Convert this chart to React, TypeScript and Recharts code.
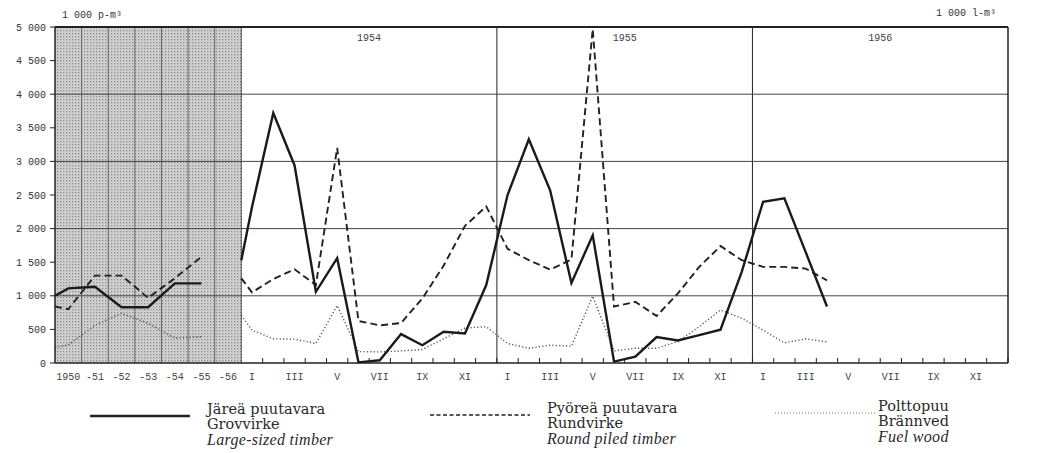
import { Line, LineChart, ReferenceArea, ReferenceLine, XAxis, YAxis } from "recharts";

// yearly panel (shaded)
const years = ["1950", "-51", "-52", "-53", "-54", "-55", "-56"];
const yearSolid = [1110, 1135, 830, 830, 1185, 1185, null];
const yearDashed = [800, 1300, 1300, 970, 1260, 1580, null];
const yearDotted = [270, 560, 740, 590, 370, 390, null];
// value where each line enters at the left edge of a panel: [solid, dashed, dotted]
const yearEdge = [1000, 840, 230];
const monthEdge = [1530, 1260, 710];

// monthly panel 1954-1956
const monthYears = ["1954", "1955", "1956"];
const monthNames = ["I", "II", "III", "IV", "V", "VI", "VII", "VIII", "IX", "X", "XI", "XII"];
const monthSolid = [
  2320, 3720, 2940, 1060, 1560, 10, 40, 430, 265, 465, 440, 1160,
  2500, 3330, 2570, 1190, 1900, 20, 95, 385, 335, 415, 495, 1360,
  2400, 2450, 1650, 840, null, null, null, null, null, null, null, null,
];
const monthDashed = [
  1050, 1250, 1395, 1160, 3200, 625, 560, 595, 960, 1450, 2040, 2330,
  1700, 1530, 1390, 1540, 4970, 840, 910, 700, 1035, 1430, 1740, 1530,
  1430, 1430, 1405, 1230, null, null, null, null, null, null, null, null,
];
const monthDotted = [
  490, 360, 355, 290, 855, 170, 165, 180, 200, 360, 520, 540,
  290, 220, 265, 250, 995, 180, 220, 220, 320, 540, 790, 665,
  490, 300, 360, 315, null, null, null, null, null, null, null, null,
];

const legendFi = ["Järeä puutavara", "Pyöreä puutavara", "Polttopuu"];
const legendSv = ["Grovvirke", "Rundvirke", "Brännved"];
const legendEn = ["Large-sized timber", "Round piled timber", "Fuel wood"];

const yTicks = [0, 500, 1000, 1500, 2000, 2500, 3000, 3500, 4000, 4500, 5000];
const gridY = [1000, 2000, 3000, 4000];

// width of one yearly column measured in monthly columns
const YEAR_W = 1.25;
const PANEL = years.length * YEAR_W;
const yearX = (i: number) => (i + 0.5) * YEAR_W;
const monthX = (m: number) => PANEL + m + 0.5;

const data = [
  { x: 0, solid: yearEdge[0], dashed: yearEdge[1], dotted: yearEdge[2] },
  ...years.map((_, i) => ({ x: yearX(i), solid: yearSolid[i], dashed: yearDashed[i], dotted: yearDotted[i] })),
  { x: PANEL, solid: monthEdge[0], dashed: monthEdge[1], dotted: monthEdge[2] },
  ...monthSolid.map((v, m) => ({ x: monthX(m), solid: v, dashed: monthDashed[m], dotted: monthDotted[m] })),
];

type Tick = { v: number; label?: string };
const xTicks: Tick[] = [
  ...years.map((label, i) => ({ v: yearX(i), label })),
  ...monthSolid.map((_, m) => ({ v: PANEL + m })),
  { v: PANEL + monthSolid.length },
  ...monthSolid.map((_, m) => ({ v: monthX(m), label: monthNames[m % 12] })).filter((_, m) => m % 2 === 0),
];

const mono = "Liberation Mono, DejaVu Sans Mono, monospace";
const ink = "#222";

const fmt = (v: number) => (v >= 1000 ? `${Math.floor(v / 1000)} ${String(v % 1000).padStart(3, "0")}` : String(v));

function XTick(props: any) {
  const { x, y, payload } = props;
  const t = xTicks.find((d) => Math.abs(d.v - payload.value) < 1e-6);
  if (!t) return null;
  if (!t.label) {
    if (t.v <= PANEL) return null;
    return <line x1={x} x2={x} y1={y} y2={y - 5} stroke={ink} strokeWidth={1} />;
  }
  return (
    <text x={x} y={y + 17} textAnchor="middle" fontFamily={mono} fontSize={10} fill="#444">
      {t.label}
    </text>
  );
}

function LegendSample({ kind }: { kind: number }) {
  const dash = kind === 0 ? undefined : kind === 1 ? "4 2.5" : "1 2";
  return (
    <svg width={100} height={6} style={{ display: "block" }}>
      <line
        x1={0}
        x2={100}
        y1={3}
        y2={3}
        stroke={kind === 2 ? "#777" : ink}
        strokeWidth={kind === 0 ? 2.6 : kind === 1 ? 1.4 : 1}
        strokeDasharray={dash}
      />
    </svg>
  );
}

const legendPos = [
  { line: 90, text: 207, y: 410 },
  { line: 430, text: 547, y: 409 },
  { line: 775, text: 878, y: 407 },
];

export default function App() {
  return (
    <div style={{ position: "absolute", left: 0, top: 0, width: 1049, height: 453, background: "#fff", overflow: "hidden" }}>
      <LineChart width={1049} height={453} data={data} margin={{ top: 27, right: 0, bottom: 70, left: 0 }}>
        <defs>
          <pattern id="stipple" width="3" height="3" patternUnits="userSpaceOnUse">
            <rect width="3" height="3" fill="#d8d8d8" />
            <rect width="1.3" height="1.3" fill="#858585" />
            <rect x="1.5" y="1.5" width="1" height="1" fill="#a8a8a8" />
          </pattern>
        </defs>
        <XAxis
          dataKey="x"
          type="number"
          domain={[0, PANEL + monthSolid.length]}
          ticks={xTicks.map((t) => t.v)}
          interval={0}
          tick={<XTick />}
          tickLine={false}
          tickSize={0}
          tickMargin={0}
          height={20}
          axisLine={{ stroke: ink, strokeWidth: 1.5 }}
        />
        <YAxis
          domain={[0, 5000]}
          ticks={yTicks}
          tickFormatter={fmt}
          width={55}
          tickSize={5}
          tickMargin={4}
          interval={0}
          axisLine={{ stroke: ink, strokeWidth: 1.5 }}
          tickLine={{ stroke: ink }}
          tick={{ fontFamily: mono, fontSize: 10, fill: "#333" }}
        />
        <YAxis
          yAxisId="r"
          orientation="right"
          domain={[0, 5000]}
          ticks={yTicks}
          tickFormatter={fmt}
          width={41}
          tickSize={4}
          tickMargin={1}
          interval={0}
          axisLine={{ stroke: ink, strokeWidth: 1.5 }}
          tickLine={{ stroke: ink }}
          tick={{ fontFamily: mono, fontSize: 10, fill: "#333", textAnchor: "start" }}
        />
        <ReferenceArea x1={0} x2={PANEL} y1={0} y2={5000} fill="url(#stipple)" fillOpacity={1} stroke="none" />
        {years.slice(1).map((_, i) => (
          <ReferenceLine key={`yv${i}`} x={(i + 1) * YEAR_W} stroke="#666" strokeWidth={1} />
        ))}
        <ReferenceLine x={PANEL} stroke="#555" strokeWidth={1} />
        {monthYears.slice(1).map((_, i) => (
          <ReferenceLine key={`mv${i}`} x={PANEL + (i + 1) * 12} stroke={ink} strokeWidth={1} />
        ))}
        {gridY.map((v) => (
          <ReferenceLine key={`h${v}`} y={v} stroke="#444" strokeWidth={1} />
        ))}
        <ReferenceLine y={5000} stroke={ink} strokeWidth={1.8} />
        {monthYears.map((yr, i) => (
          <ReferenceArea
            key={yr}
            x1={PANEL + i * 12}
            x2={PANEL + (i + 1) * 12}
            y1={0}
            y2={5000}
            fill="none"
            stroke="none"
            label={{ value: yr, position: "insideTop", offset: 7, fontFamily: mono, fontSize: 10, fill: "#444" }}
          />
        ))}
        <Line dataKey="dotted" stroke="#555" strokeWidth={1.4} strokeDasharray="1.2 2.2" dot={false} isAnimationActive={false} />
        <Line dataKey="dashed" stroke={ink} strokeWidth={1.9} strokeDasharray="7 4" dot={false} isAnimationActive={false} />
        <Line dataKey="solid" stroke="#1a1a1a" strokeWidth={2.4} dot={false} isAnimationActive={false} />
      </LineChart>

      <div style={{ position: "absolute", left: 62, top: 10, fontFamily: mono, fontSize: 10, color: "#333" }}>1 000 p-m³</div>
      <div style={{ position: "absolute", left: 936, top: 8, fontFamily: mono, fontSize: 10, color: "#333" }}>1 000 l-m³</div>

      {legendPos.map((p, i) => (
        <div key={i}>
          <div style={{ position: "absolute", left: p.line, top: p.y + 3 }}>
            <LegendSample kind={i} />
          </div>
          <div
            style={{
              position: "absolute",
              left: p.text,
              top: p.y - 8,
              fontFamily: "DejaVu Serif, serif",
              fontSize: 14.5,
              lineHeight: "15px",
              color: "#2a2a2a",
            }}
          >
            <div>{legendFi[i]}</div>
            <div>{legendSv[i]}</div>
            <div style={{ fontFamily: "Liberation Serif, serif", fontStyle: "italic", fontSize: 16, letterSpacing: 0.3 }}>
              {legendEn[i]}
            </div>
          </div>
        </div>
      ))}
    </div>
  );
}
